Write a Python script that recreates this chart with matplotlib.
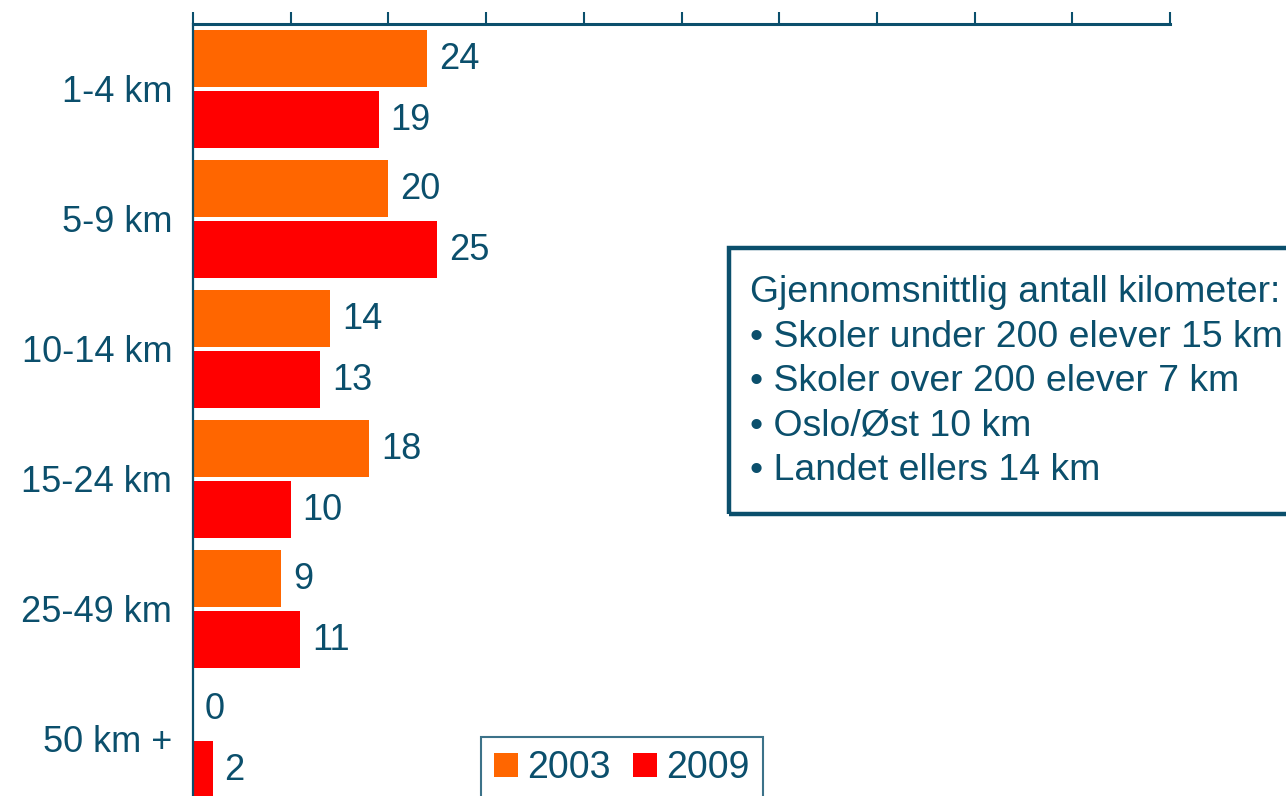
import matplotlib
matplotlib.use("Agg")
import matplotlib.pyplot as plt
from matplotlib.patches import Rectangle, Patch
import numpy as np

categories = ["1-4 km", "5-9 km", "10-14 km", "15-24 km", "25-49 km", "50 km +"]
values_2003 = [24, 20, 14, 18, 9, 0]
values_2009 = [19, 25, 13, 10, 11, 2]
series_names = ["2003", "2009"]
box_lines = ["Gjennomsnittlig antall kilometer:",
             "\u2022 Skoler under 200 elever 15 km",
             "\u2022 Skoler over 200 elever 7 km",
             "\u2022 Oslo/\u00d8st 10 km",
             "\u2022 Landet ellers 14 km"]

TEAL = "#0B4F6C"
ORANGE = "#FF6600"
RED = "#FF0000"
plt.rcParams['font.family'] = ['Liberation Sans', 'DejaVu Sans']
FS = 26

W, H = 1286, 796
fig = plt.figure(figsize=(W / 100, H / 100), dpi=100)
# axes: x 193..1170, y 24..804 (pixels from top)
ax = fig.add_axes([193 / W, 1 - 804 / H, (1170 - 193) / W, (804 - 24) / H])

y = np.arange(len(categories))
off = 0.237
h = 0.44
ax.barh(y - off, values_2003, height=h, color=ORANGE, label=series_names[0])
ax.barh(y + off, values_2009, height=h, color=RED, label=series_names[1])

for yi, v in zip(y - off, values_2003):
    ax.annotate(str(v), (v, yi), xytext=(12, -1), textcoords="offset pixels",
                va="center", ha="left", fontsize=FS, color=TEAL)
for yi, v in zip(y + off, values_2009):
    ax.annotate(str(v), (v, yi), xytext=(12, -1), textcoords="offset pixels",
                va="center", ha="left", fontsize=FS, color=TEAL)

ax.set_xlim(0, 100)
ax.set_ylim(len(categories) - 0.5, -0.5)
ax.set_yticks(y)
ax.set_yticklabels(categories, fontsize=FS, color=TEAL)
ax.tick_params(axis="y", length=0, pad=15)
ax.xaxis.tick_top()
ax.set_xticks(np.arange(0, 101, 10))
ax.tick_params(axis="x", direction="out", length=9, width=1.5, color=TEAL, labeltop=False, labelbottom=False)
for s in ["right", "bottom"]:
    ax.spines[s].set_visible(False)
ax.spines["top"].set_color(TEAL)
ax.spines["top"].set_linewidth(2.2)
ax.spines["left"].set_color(TEAL)
ax.spines["left"].set_linewidth(1.6)
ax.spines["left"].set_clip_on(False)

# text box
box = Rectangle((729 / W, 1 - 514 / H), (1300 - 729) / W, (514 - 248) / H,
                transform=fig.transFigure, fill=False, edgecolor=TEAL, linewidth=3.2,
                clip_on=False)
fig.patches.append(box)
for i, line in enumerate(box_lines):
    fig.text(750 / W, 1 - (293 + 44.3 * i) / H, line, fontsize=26.9, color=TEAL,
             ha="left", va="center")

handles = [Patch(facecolor=ORANGE, edgecolor="none"), Patch(facecolor=RED, edgecolor="none")]
leg = fig.legend(handles, series_names, loc="upper left",
                 bbox_to_anchor=(481 / W, 1 - 737 / H), fontsize=27,
                 ncol=2, frameon=True, fancybox=False, handlelength=0.64,
                 handleheight=0.64, handletextpad=0.24, columnspacing=0.6,
                 borderpad=0.35, borderaxespad=0)
leg.get_frame().set_edgecolor(TEAL)
leg.get_frame().set_linewidth(1.5)
for t in leg.get_texts():
    t.set_color(TEAL)

fig.savefig("out.png", dpi=100)
